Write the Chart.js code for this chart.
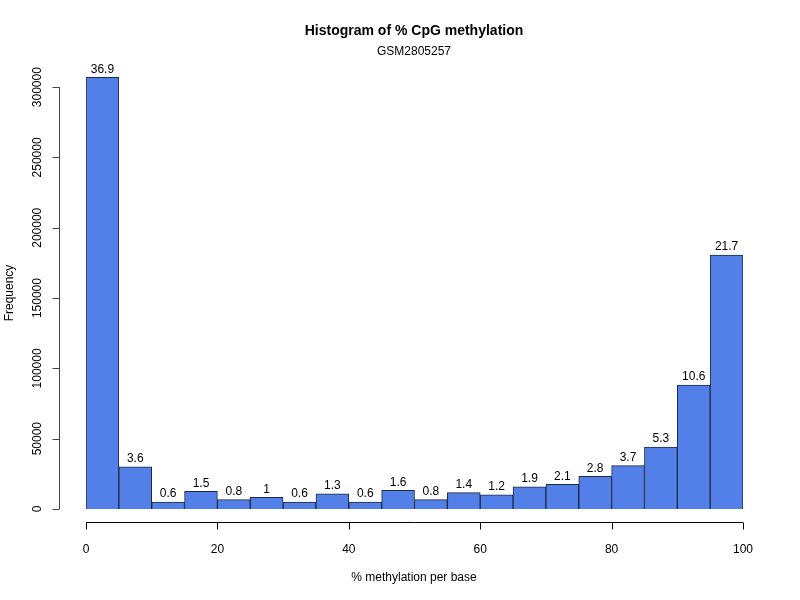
<!DOCTYPE html>
<html>
<head>
<meta charset="utf-8">
<title>Histogram of % CpG methylation</title>
<script src="https://cdn.jsdelivr.net/npm/chart.js@4"></script>
<style>
  body { margin: 0; background: #fff; }
  #wrap { width: 800px; height: 600px; }
</style>
</head>
<body>
<div id="wrap"><canvas id="histChart" width="800" height="600"></canvas></div>
<script>
// bin centres (% methylation, bins of width 5)
var binCenters = [2.5, 7.5, 12.5, 17.5, 22.5, 27.5, 32.5, 37.5, 42.5, 47.5,
                  52.5, 57.5, 62.5, 67.5, 72.5, 77.5, 82.5, 87.5, 92.5, 97.5];
// frequency per bin
var counts = [307000, 30000, 5000, 12500, 6700, 8300, 5000, 10800, 5000, 13300,
              6700, 11700, 10000, 15800, 17500, 23300, 30800, 44100, 88200, 180500];
// percentage labels over bars
var pctLabels = ["36.9", "3.6", "0.6", "1.5", "0.8", "1", "0.6", "1.3", "0.6", "1.6",
                 "0.8", "1.4", "1.2", "1.9", "2.1", "2.8", "3.7", "5.3", "10.6", "21.7"];
var xTicks = [0, 20, 40, 60, 80, 100];
var yTicks = [0, 50000, 100000, 150000, 200000, 250000, 300000];

var FONT = 'Liberation Sans, Arial, Helvetica, sans-serif';

// R style detached axes, titles and bar labels
var rStyle = {
    id: 'rStyle',
    afterDatasetsDraw: function(chart) {
        var ctx = chart.ctx;
        var xs = chart.scales.x, ys = chart.scales.y;
        ctx.save();
        ctx.fillStyle = '#000';

        // labels above bars
        ctx.font = '12px ' + FONT;
        ctx.textAlign = 'center';
        ctx.textBaseline = 'middle';
        var meta = chart.getDatasetMeta(0);
        meta.data.forEach(function(bar, i) {
            ctx.fillText(pctLabels[i], bar.x, bar.y - 8);
        });

        // x axis
        var ax = Math.round(ys.getPixelForValue(0)) + 13.5;
        ctx.strokeStyle = '#000';
        ctx.lineWidth = 1;
        ctx.beginPath();
        ctx.moveTo(xs.getPixelForValue(xTicks[0]), ax);
        ctx.lineTo(xs.getPixelForValue(xTicks[xTicks.length - 1]), ax);
        xTicks.forEach(function(t) {
            var px = Math.round(xs.getPixelForValue(t)) + 0.5;
            ctx.moveTo(px, ax);
            ctx.lineTo(px, ax + 7);
        });
        ctx.stroke();
        xTicks.forEach(function(t) {
            ctx.fillText(String(t), xs.getPixelForValue(t), ax + 27);
        });

        // y axis
        var ay = 59.5;
        ctx.strokeStyle = '#444';
        ctx.beginPath();
        ctx.moveTo(ay, ys.getPixelForValue(yTicks[0]));
        ctx.lineTo(ay, ys.getPixelForValue(yTicks[yTicks.length - 1]));
        yTicks.forEach(function(t) {
            var py = Math.round(ys.getPixelForValue(t)) + 0.5;
            ctx.moveTo(ay, py);
            ctx.lineTo(ay - 7, py);
        });
        ctx.stroke();
        yTicks.forEach(function(t) {
            ctx.save();
            ctx.translate(38, ys.getPixelForValue(t));
            ctx.rotate(-Math.PI / 2);
            ctx.fillText(String(t), 0, 0);
            ctx.restore();
        });

        // axis titles
        ctx.fillText('% methylation per base', 414, 578);
        ctx.save();
        ctx.translate(10, 293);
        ctx.rotate(-Math.PI / 2);
        ctx.fillText('Frequency', 0, 0);
        ctx.restore();

        // main title + subtitle
        ctx.font = 'bold 14px ' + FONT;
        ctx.fillText('Histogram of % CpG methylation', 414, 31);
        ctx.font = '12px ' + FONT;
        ctx.fillText('GSM2805257', 414, 52);

        ctx.restore();
    }
};

var histCtx = document.getElementById('histChart').getContext('2d');
var histChart = new Chart(histCtx, {
    type: 'bar',
    data: {
        datasets: [{
            data: binCenters.map(function(c, i) { return { x: c, y: counts[i] }; }),
            backgroundColor: '#527FE8',
            borderColor: '#1E2A40',
            borderWidth: 1,
            barPercentage: 1.0,
            categoryPercentage: 1.0
        }]
    },
    options: {
        responsive: false,
        animation: false,
        layout: { padding: { left: 86, right: 57, top: 59, bottom: 91 } },
        plugins: {
            legend: { display: false },
            tooltip: { enabled: false }
        },
        scales: {
            x: { type: 'linear', min: 0, max: 100, offset: false, display: false },
            y: { type: 'linear', min: 0, max: 320000, display: false }
        }
    },
    plugins: [rStyle]
});
</script>
</body>
</html>
